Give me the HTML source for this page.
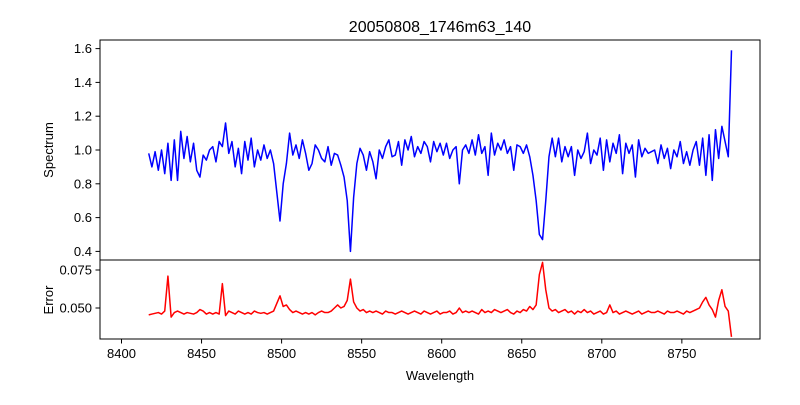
<!DOCTYPE html>
<html><head><meta charset="utf-8"><style>
body{margin:0;background:#fff}
svg text{font-family:"Liberation Sans","DejaVu Sans",sans-serif;fill:#000}
</style></head><body>
<svg id="chart" width="800" height="400">
<rect width="800" height="400" fill="#fff"/>
<text x="440" y="32" font-size="16" text-anchor="middle">20050808_1746m63_140</text>
<g id="topg"></g><g id="botg"></g><g id="xt"></g>
<rect x="100" y="40" width="660" height="220" fill="none" stroke="#000" stroke-width="1"/>
<rect x="100" y="260" width="660" height="79" fill="none" stroke="#000" stroke-width="1"/>
<text transform="translate(53,150) rotate(-90)" font-size="13" text-anchor="middle">Spectrum</text>
<text transform="translate(53,300) rotate(-90)" font-size="13" text-anchor="middle">Error</text>
<text x="440" y="380" font-size="13" text-anchor="middle">Wavelength</text>
</svg>
<script>
const waveStart = 8417;
const waveStep = 2;
const spectrum = [
0.98,0.90,0.99,0.88,1.00,0.86,1.04,0.82,1.06,0.82,
1.11,0.95,1.08,0.93,1.04,0.88,0.84,0.97,0.94,1.00,
1.02,0.93,1.05,1.02,1.16,0.98,1.05,0.90,1.01,0.86,
1.05,0.94,1.07,0.90,1.00,0.94,1.03,0.95,1.00,0.92,
0.75,0.58,0.80,0.92,1.10,0.97,1.03,0.95,1.06,0.98,
0.88,0.92,1.03,1.00,0.95,0.93,1.02,0.91,0.98,0.97,
0.91,0.84,0.70,0.40,0.72,0.92,1.01,0.97,0.88,0.99,
0.93,0.83,1.00,0.95,1.02,1.06,0.96,0.97,1.05,0.91,
1.06,1.00,1.08,0.96,1.02,0.98,1.05,1.02,0.93,1.05,
0.99,1.04,0.97,1.04,0.95,1.00,1.02,0.80,1.00,1.03,
0.98,1.06,0.97,1.09,0.98,1.02,0.85,1.10,0.97,1.04,
1.00,1.06,0.98,1.02,0.88,1.03,1.02,0.98,1.03,0.96,
0.85,0.70,0.50,0.47,0.70,0.96,1.07,0.96,1.07,0.93,
1.02,0.96,1.02,0.85,1.00,0.95,0.99,1.10,0.92,1.00,
0.97,1.07,0.88,1.06,0.93,1.04,0.98,1.09,0.86,1.04,
0.98,1.03,0.84,1.06,0.96,1.01,0.98,0.99,1.00,0.92,
1.03,0.95,1.01,0.89,1.00,0.96,1.05,0.92,0.99,0.91,
1.00,1.05,0.91,1.07,0.85,1.09,0.82,1.12,0.95,1.14,
1.05,0.96,1.59];
const errors = [
.0455,.046,.0465,.047,.046,.048,.071,.044,.047,.048,
.047,.046,.047,.0465,.046,.047,.049,.048,.046,.047,
.046,.047,.046,.066,.045,.048,.047,.046,.048,.047,
.046,.047,.046,.048,.047,.0465,.047,.046,.047,.048,
.053,.058,.051,.052,.049,.047,.048,.047,.046,.047,
.046,.047,.0455,.047,.048,.047,.047,.048,.050,.052,
.050,.051,.055,.069,.054,.050,.048,.049,.047,.048,
.047,.048,.047,.046,.048,.047,.047,.046,.047,.048,
.047,.046,.047,.048,.047,.046,.048,.047,.046,.047,
.048,.046,.047,.047,.048,.046,.047,.050,.047,.048,
.047,.048,.047,.046,.049,.047,.048,.047,.049,.048,
.047,.048,.049,.047,.046,.048,.047,.049,.048,.051,
.049,.052,.072,.080,.062,.050,.048,.049,.047,.048,
.049,.047,.048,.046,.048,.047,.049,.047,.048,.046,
.047,.048,.046,.047,.052,.047,.048,.046,.047,.048,
.047,.046,.047,.048,.046,.047,.048,.047,.047,.048,
.047,.046,.048,.047,.047,.048,.047,.046,.048,.047,
.048,.049,.050,.054,.057,.052,.049,.044,.055,.062,
.051,.048,.031];
const xTicks = [8400,8450,8500,8550,8600,8650,8700,8750];
const specTicks = [0.4,0.6,0.8,1.0,1.2,1.4,1.6];
const errTicks = [0.050,0.075];

const NS="http://www.w3.org/2000/svg";
const xS = w => 121.5 + (w-8400)*1.601;
const yS = v => 150 - (v-1)*169;
const yE = v => 308 - (v-0.05)*1520;
function mk(tag, attrs, parent){const e=document.createElementNS(NS,tag);for(const k in attrs)e.setAttribute(k,attrs[k]);parent.appendChild(e);return e;}
const topG=document.getElementById('topg'), botG=document.getElementById('botg'), tickG=document.getElementById('xt');

let d=spectrum.map((v,i)=>(i?'L':'M')+xS(waveStart+i*waveStep).toFixed(2)+','+yS(v).toFixed(2)).join('');
const p1=mk('path',{d:d,fill:'none',stroke:'#0000ff','stroke-width':1.5,'stroke-linejoin':'round'},topG);


d=errors.map((v,i)=>(i?'L':'M')+xS(waveStart+i*waveStep).toFixed(2)+','+yE(v).toFixed(2)).join('');
const p2=mk('path',{d:d,fill:'none',stroke:'#ff0000','stroke-width':1.5,'stroke-linejoin':'round'},botG);



xTicks.forEach(t=>{
  const x=xS(t);
  const l=mk('line',{x1:x,x2:x,y1:339,y2:343.5,stroke:'#000'},tickG);
  
  
  const tx=mk('text',{x:x,y:358,'font-size':13,'text-anchor':'middle'},tickG);
  tx.textContent=t;
  
  
});
specTicks.forEach(t=>{
  const y=yS(t);
  const l=mk('line',{x1:95.5,x2:100,y1:y,y2:y,stroke:'#000'},tickG);
  
  
  const tx=mk('text',{x:92,y:y+4.5,'font-size':13,'text-anchor':'end'},tickG);
  tx.textContent=t.toFixed(1);
  
  
});
errTicks.forEach(t=>{
  const y=yE(t);
  const l=mk('line',{x1:95.5,x2:100,y1:y,y2:y,stroke:'#000'},tickG);
  
  
  const tx=mk('text',{x:92,y:y+4.5,'font-size':13,'text-anchor':'end'},tickG);
  tx.textContent=t.toFixed(3);
  
  
});
</script>
</body></html>
